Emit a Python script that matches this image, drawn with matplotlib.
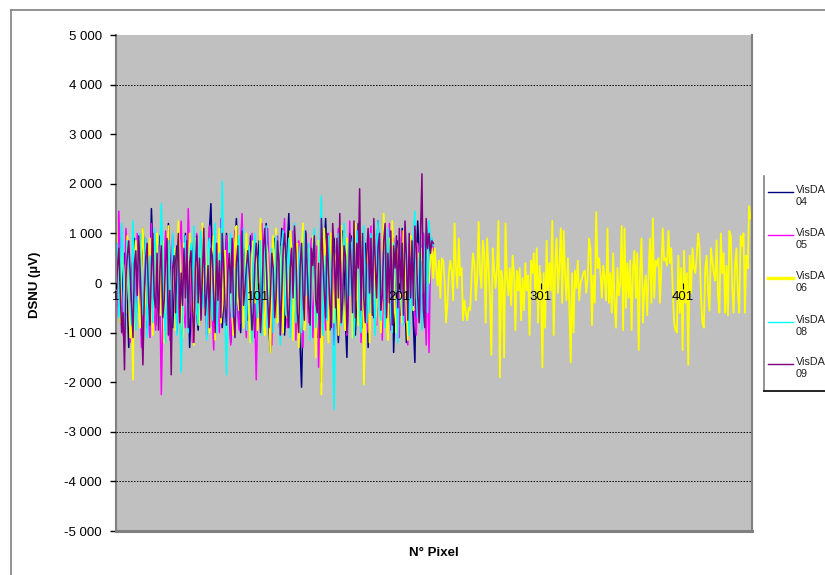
import matplotlib
matplotlib.use("Agg")
import matplotlib.pyplot as plt
import numpy as np
from matplotlib.lines import Line2D

plt.rcParams['font.family'] = ['Liberation Sans', 'DejaVu Sans']

# --- data (DSNU in µV per pixel) ---
series_names = ["VisDA\n04", "VisDA\n05", "VisDA\n06", "VisDA\n08", "VisDA\n09"]
series_colors = ["#000080", "#FF00FF", "#FFFF00", "#00FFFF", "#800080"]

s04 = [
    -200, 150, -500, -800, -300, 300, 600, 100, -400, -1300, -700, 200, 500, 900, 300,
    -150, -600, -250, 400, 1100, 650, -100, -900, -500, 50, 1500, 700, -300, -850, -400,
    200, 950, 400, -350, -1100, -600, 100, 1200, 500, -200, -900, -300, 400, 750, 100,
    -450, -1050, -200, 350, 1000, 550, -100, -1300, -500, 300, 900, 200, -600, -950, -150,
    500, 1150, 300, -400, -800, 150, 1100, 1600, 400, -700, -1150, -300, 450, 750, -250,
    -900, -400, 250, 1000, 300, -550, -1200, -350, 600, 800, 1300, 200, -500, -1000, -200,
    700, 400, -450, -750, 150, 950, 550, -300, -1100, -600, 300, 850, 100, -800, -500,
    400, 1200, 500, -950, -1400, -300, 650, 900, 250, -700, -200, 450, 1100, 200, -1050,
    -600, 750, 1400, 300, -250, -900, -500, 300, 800, -450, -1250, -2100, -600, 200, 1000,
    550, -200, -750, -300, 350, 850, -100, -1100, -550, 250, -2000, -800, 700, 1300, 400,
    -350, -950, -200, 600, 900, 150, -650, -1200, -300, 450, 1050, 300, -800, -1500, -100,
    750, 950, 200, -550, -1050, -250, 1200, 650, -400, -900, 350, 800, -100, -1300, -450,
    1000, 450, -700, -250, 600, 1250, 300, -800, -600, 400, 950, -200, -1000, -350, 300,
    700, -1400, -500, 550, 850, -250, -650, 1100, 450, -350, -1200, -100, 750, 900, -150,
    -850, -1600, 350, 1250, 500, -200, 600, 1000, 300, -500, 150, 900, 650, 800, 750,
]

s05 = [
    -900, -300, 1450, 500, -200, -1050, -400, 1100, 600, -100, -1200, -500, 850, 300, -800,
    1000, 400, -450, -1300, -650, 200, 900, 350, -750, -1100, 1200, 500, -300, -950, 150,
    750, -350, -2250, -700, 400, 1050, 250, -600, -1150, 300, 950, 500, -200, -1000, -400,
    800, 1250, 300, -650, -900, 100, 1500, 600, -300, -1200, -500, 700, 1000, -150, -850,
    -600, 450, 900, 200, -1050, -300, 1150, 600, -700, -1350, 350, 800, 100, -1000, 1300,
    550, -250, -800, 950, 300, -400, -1250, -100, 700, 1050, 400, -650, -950, 850, 1400,
    200, -550, -1100, 250, 750, -350, 1000, 500, -700, -1950, -600, 300, 900, 1200, -500,
    -850, 150, 1100, 400, -400, -1250, 650, 350, -150, 950, -750, -1050, 500, 800, 1300,
    -300, -900, 200, 700, -450, 1050, 400, -1150, -250, 850, 550, -700, -1300, 1000, 250,
    -350, -800, 600, 900, -1100, -200, 450, 750, -1700, -500, 1150, 300, -350, -950, 850,
    1000, -600, -250, 500, -1250, -400, 700, 1100, -800, 350, -150, 950, 600, -1050, -300,
    1250, 400, -700, -900, 800, -350, 1050, 550, -1200, -200, 900, 300, -650, -1000, 750,
    1150, -450, 250, -550, -850, 1000, 650, -300, -1150, 450, 850, -700, -400, 1200, -950,
    350, 900, -600, -250, 550, -1100, 750, 1050, -500, -800, 300, -1250, 700, 950, -350,
    400, -650, -1050, 800, 600, -300, -900, 1000, -450, -1250, 700, -1400, 500, 900, 650,
]

s06 = [
    1350, 500, -300, -800, 700, 400, -150, -600, 950, 250, -1100, -400, -1950, 550, 850,
    300, -500, -900, 650, 1100, 200, -350, -750, 500, 900, -200, -1050, 350, 750, 1000,
    -450, -650, 300, 850, -1200, -100, 550, 1150, -400, -850, 250, 700, -950, -300, 1250,
    400, -550, -1100, 800, 600, -250, -700, 1000, 350, -450, -1250, 900, 500, -150, -850,
    700, 1200, -350, -600, 250, 750, -1000, -400, 550, 950, -1150, -200, 400, 1100, -800,
    -500, 300, 650, -1300, -250, 900, 450, -700, -1050, 800, 1150, -350, -550, 200, 600,
    -900, -150, 1000, 350, -750, -1200, 550, 850, -400, 700, -950, -300, 1300, 250, -650,
    -1050, 800, 600, -450, -1400, 450, 950, -200, 1100, -800, -550, 300, 750, -1000, 900,
    -350, -700, 400, 1050, 650, -1150, -250, 350, 800, -1300, -500, 550, 1200, -950, -400,
    250, 700, -1050, -300, 950, 500, -1500, -600, 850, 600, -2250, -900, 1100, 300, -600,
    -1200, 750, 1000, -150, -800, 450, 650, -1050, -400, 1150, 350, -700, -950, 900, -250,
    550, 800, -1100, -500, 1200, 300, -850, -350, 700, 1000, -2050, -650, 450, 850, -1200,
    -300, 600, 1100, -900, -450, 350, 750, -1000, -200, 1400, 500, -700, -1150, 900, -400,
    1250, 300, -600, -1000, 650, 850, -250, -800, 1050, 400, -450, -1150, 700, 950, -350,
    -550, 200, 800, -300, 600, 450, 700, -200, 500, 300, 650, 0, 500, 700, 100,
    # VisDA 06 continues alone past pixel 225
    700, 300, -50, 450, -300, 500, 450, 50, -800, -400, 200, 450, 250, -350, 1200,
    300, -100, 900, 150, 300, -750, -350, -600, -750, -500, -550, 100, 600, 400, -350,
    100, 1230, 200, -100, 850, 600, -800, 900, 350, -300, -1450, 700, 250, -100,
    300, 1250, -1900, 250, 50, -1500, 1200, 100, -250, 300, -450, 550, 200, -950, 250,
    -150, 300, -750, 100, -550, 400, -150, 150, -1050, 450, 200, 600, -300, 700, -800,
    350, 0, -1700, 200, -900, 850, -300, 400, -150, 1250, -1050, 300, 900, -200, 350,
    1100, -400,
    1050, 200, -350, 500, -400, -1600, 200, -1000, 250, -100, 450, -350, 0, 100, 200,
    250, -200, 100, 900, 700, -850, 150, -400, 1430, 300, 500, 200, -300, 350, 100,
    -350, 1100, -400, 200, -600, 600, -450, -900, 300, -250, 0, 1150, -950, 1100, -500,
    400, -300,
    450, -950, 300, 650, -300, 600, -1350, 250, 900, -800, -100, 150, -650, 200, 900,
    -400, 1300, -300, 450, 350, 500, -400, 300, 1100, 450, 500, 350, 1050, 400, 700,
    -100, -800, -950, -1000, 550, -600, 300, -1350, 650, -400, 200, -1650, 550, -200, 700,
    300,
    200, 550, 1000, 700, -300, -800, -900, 300, 550, -200, -560, 700, 450, 200, 50,
    860, -250, -600, 1000, 200, 600, -600, 350, -650, 1050, 950, -100, -600, 350, 700,
    -200, -600, 950, 750, 1000, -600, 550, 300, 1550, 1300,
]

s08 = [
    300, 800, -700, -400, 1200, 600, -1000, -250, 850, 400, -550, -850, 1250, 200, -950,
    -300, 750, 1000, -350, -650, 200, 900, -1100, -400, 550, 350, -800, 1100, 700, -250,
    -500, 400, 1600, 600, -600, -1200, 300, 850, -150, -900, 1000, 250, -450, -1050, 700,
    -350, -1800, -700, 450, 950, -250, -1000, 550, 800, -400, 1150, 300, -600, -850, 650,
    1050, -200, -500, 350, -1150, 750, 900, -300, -750, 400, 1200, -1000, -450, 600, 250,
    2050, 450, -600, -1850, -350, 800, 1000, -700, 300, -1100, -250, 650, 950, -800, 500,
    1100, -400, -950, 350, 750, -600, -1200, 500, 1000, -150, -700, 400, 850, -1050, -300,
    600, 1150, -900, -450, 250, 700, -1000, -550, 950, 500, -350, -1250, 800, 1050, -200,
    -650, 350, 900, -1100, -400, 600, 1200, -800, -300, 450, 750, -1000, -550, 1050, -250,
    400, 800, -1150, -350, 650, 1100, -900, -500, 300, 850, 1750, -1050, -400, 550, -750,
    950, 450, -300, -1200, -2550, -400, 700, 1000, 350, -850, -600, 1200, 500, -950, 800,
    -250, 650, 900, -1100, -450, 1050, 300, -700, -1000, 750, 1150, -350, -800, 400, -600,
    1000, 550, -300, -1050, 850, 1250, -500, -750, 350, 700, -900, -400, 1100, 250, -650,
    -1000, 800, 600, -350, -1200, 950, 400, -450, -850, 1150, 700, -300, -1050, 500, -550,
    900, 1450, -250, -700, 450, 800, -950, -300, 650, 1100, -600, 1250, 800, 900, 750,
]

s09 = [
    -400, 300, 700, -200, -1000, -600, -1750, 100, 550, 850, 200, -450, -1100, 400, 650,
    -250, 950, 300, -600, -1650, -200, 500, 800, -350, -850, 350, 1000, -300, -500, 600,
    -950, 250, 750, -700, -350, 450, 900, -1050, -150, -1850, 300, 550, -600, 350, 1000,
    -800, 200, -450, 700, -300, 850, -900, 400, 650, -550, -1200, 300, 950, -400, 500,
    -750, 200, 1100, -650, -250, 350, -900, 700, 550, -250, -1000, 800, -350, 450, -700,
    1000, 400, -500, -850, 250, 600, -200, 900, -650, -1100, 400, 750, -300, -800, 1050,
    -450, -150, 300, 650, 250, -250, -950, -550, 350, 800, 450, -200, -1000, -400, 700,
    1100, 400, -300, -900, -250, 600, 300, -700, -300, 850, 400, -1050, -250, 650, 1000,
    450, -550, -900, 300, 700, -300, 1150, 600, -600, -1000, 350, 800, -200, -750, 1050,
    250, -450, -850, 700, 350, 950, -350, -600, 400, -1100, 1300, 550, -200, -700, 1000,
    300, -450, -900, 1200, 650, -500, 900, -300, 1400, -800, -400, 750, 550, -1000, -250,
    1000, 350, -600, 1250, -700, 800, 300, 1900, -550, 1000, -350, -800, 600, 1100, -200,
    900, -650, 1300, 400, -300, 700, 1000, -550, -250, 850, 1200, -700, 600, -400, 1050,
    -850, 750, 300, 950, -500, 1100, -200, 800, -650, 1250, 550, -750, 1000, -300, 850,
    -450, 1150, 700, -250, -800, 1000, 2200, -550, -900, 1300, 700, 1000, 600, 850, 800,
]

x_ticks = [1, 101, 201, 301, 401]
y_ticks = [-5000, -4000, -3000, -2000, -1000, 0, 1000, 2000, 3000, 4000, 5000]
grid_values = [4000, -3000, -4000]

W, H = 825, 575
fig = plt.figure(figsize=(W / 100, H / 100), dpi=100)


def fx(px):
    return px / W


def fy(py):
    return 1 - py / H


# plot area in pixels: left 116, right 752, top 35, bottom 531
ax = fig.add_axes([fx(116), fy(531), fx(752) - fx(116), fy(35) - fy(531)])
ax.set_facecolor("#C0C0C0")

all_series = [s04, s05, s06, s08, s09]
widths = [1.1, 1.1, 1.3, 1.1, 1.1]
for vals, col, lw in zip(all_series, series_colors, widths):
    xs = np.arange(1, len(vals) + 1)
    ax.plot(xs, vals, color=col, lw=lw)

for g in grid_values:
    ax.axhline(g, color="black", lw=0.7, ls=(0, (1.5, 1.5)), zorder=1)

ax.set_xlim(1, 450)
ax.set_ylim(-5000, 5000)

ax.set_yticks(y_ticks)
ax.set_yticklabels([f"{v:,}".replace(",", " ") for v in y_ticks])
ax.set_xticks(x_ticks)
ax.set_xticklabels([str(v) for v in x_ticks])
ax.tick_params(axis="y", direction="out", length=4, width=1, color="black",
               labelsize=9.5, pad=6)
ax.tick_params(axis="x", direction="out", length=4, width=0.8, color="black",
               labelsize=9.5, pad=2)
ax.set_axisbelow(False)

# category axis crosses at zero, line itself hidden
ax.spines["bottom"].set_position(("data", 0))
ax.spines["bottom"].set_color("none")
ax.spines["top"].set_visible(False)
ax.spines["left"].set_color("#808080")
ax.spines["left"].set_linewidth(1.5)
ax.spines["right"].set_color("#808080")
ax.spines["right"].set_linewidth(1.5)
ax.plot([0, 1], [0, 0], transform=ax.transAxes, color="#808080", lw=2.2,
        clip_on=False, zorder=5)

fig.text(fx(35), fy(285), "DSNU (µV)", rotation=90, ha="center", va="center",
         fontsize=9.5, fontweight="bold")
fig.text(fx(434), fy(553), "N° Pixel", ha="center", va="center",
         fontsize=9.5, fontweight="bold")

# outer chart frame (partially outside the image)
fig.add_artist(Line2D([fx(10.5), fx(10.5)], [fy(9.5), fy(600)], color="#808080", lw=1.2))
fig.add_artist(Line2D([fx(10.5), fx(900)], [fy(9.5), fy(9.5)], color="#808080", lw=1.2))

# legend box, running off the right edge like the original
fig.add_artist(Line2D([fx(764), fx(764)], [fy(176), fy(391)], color="#808080", lw=1.2))
fig.add_artist(Line2D([fx(764), fx(900)], [fy(391), fy(391)], color="black", lw=1.2))
leg_y = [192, 235, 278, 322, 364]
leg_w = [1.0, 1.0, 2.4, 1.0, 1.0]
for name, col, lw, py in zip(series_names, series_colors, leg_w, leg_y):
    fig.add_artist(Line2D([fx(768), fx(793)], [fy(py), fy(py)], color=col, lw=lw))
    fig.text(fx(795.5), fy(py - 7), name, ha="left", va="top", fontsize=7.8,
             color="#202020", linespacing=1.25)

fig.savefig("out.png", dpi=100)
